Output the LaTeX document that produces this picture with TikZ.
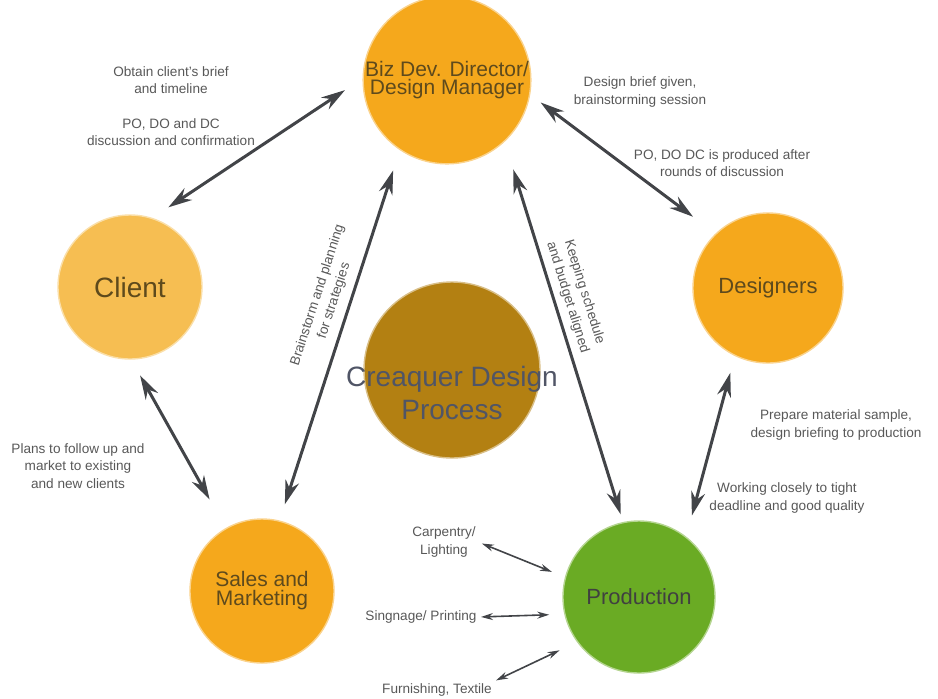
\documentclass[tikz,border=0pt]{standalone}
\usepackage{fontspec}
\setmainfont{Liberation Sans}
\usepackage{xcolor}
\usetikzlibrary{arrows.meta, positioning}
\definecolor{rolecolor}{RGB}{245,168,28}
\definecolor{clientcolor}{RGB}{246,190,82}
\definecolor{corecolor}{RGB}{179,128,18}
\definecolor{prodcolor}{RGB}{106,171,36}
\definecolor{arrowcolor}{RGB}{66,68,72}
\definecolor{notecolor}{RGB}{88,88,88}
\definecolor{stagetext}{RGB}{94,74,28}
\definecolor{coretext}{RGB}{80,85,102}

\tikzset{
  stage/.style={circle, fill=#1, draw=#1!50!white, line width=0.7pt, inner sep=0pt, align=center, text=stagetext},
  link/.style={{Stealth[length=12pt,width=7pt]}-{Stealth[length=12pt,width=7pt]}, line width=1.5pt, draw=arrowcolor},
  sublink/.style={{Stealth[length=6pt,width=3.5pt]}-{Stealth[length=6pt,width=3.5pt]}, line width=0.8pt, draw=arrowcolor},
  note/.style={text=notecolor, font=\fontsize{6.8}{8.7}\selectfont, align=center, inner sep=1pt}
}

\begin{document}
\begin{tikzpicture}[x=0.5pt, y=-0.5pt]
\useasboundingbox (0,0) rectangle (938,698);

% stages
\node[stage=rolecolor, minimum size=72pt, font=\fontsize{10.5}{9}\selectfont] (biz) at (447,80) {Biz Dev. Director/\\Design Manager};
\node[stage=clientcolor, minimum size=72pt, font=\fontsize{14}{14}\selectfont] (client) at (130,287) {Client};
\node[stage=rolecolor, minimum size=75pt, font=\fontsize{11}{11}\selectfont] (designers) at (768,288) {Designers};
\node[stage=rolecolor, minimum size=72pt, font=\fontsize{10.5}{9.5}\selectfont] (sales) at (262,591) {Sales and\\Marketing};
\node[stage=prodcolor, minimum size=76pt, font=\fontsize{11}{11}\selectfont, text=black!75] (prod) at (639,597) {Production};
\node[stage=corecolor, minimum size=88pt] (core) at (452,370) {};
\node[text=coretext, align=center, font=\fontsize{14}{16.5}\selectfont] (coretitle) at (452,393) {Creaquer Design\\Process};

% links between stages
\draw[link, shorten <=9.5pt, shorten >=10.5pt] (client.72) -- (biz.179);
\draw[link, shorten <=6.5pt, shorten >=14pt] (biz.-10) -- (designers.134);
\draw[link, shorten <=10.7pt, shorten >=8.5pt] (biz.236) -- (sales.76)
  node[note, pos=0.42, sloped, above=3pt] {Brainstorm and planning\\for strategies};
\draw[link, shorten <=14.4pt, shorten >=4pt] (biz.-47) -- (prod.102)
  node[note, pos=0.42, sloped, above=2pt] {Keeping schedule\\and budget aligned};
\draw[link, shorten <=9pt, shorten >=16.4pt] (client.-89) -- (sales.120);
\draw[link, shorten <=8.7pt, shorten >=10.9pt] (designers.-116) -- (prod.52);

% notes
\node[note] (briefnote) at (171,106) {Obtain client's brief\\and timeline\\[8.7pt]PO, DO and DC\\discussion and confirmation};
\node[note] (designnote) at (640,92) {Design brief given,\\brainstorming session};
\node[note] (roundsnote) at (722,163) {PO, DO DC is produced after\\rounds of discussion};
\node[note] (plansnote) at (78,466) {Plans to follow up and\\market to existing\\and new clients};
\node[note] (preparenote) at (836,425) {Prepare material sample,\\design briefing to production};
\node[note] (worknote) at (787,498) {Working closely to tight\\deadline and good quality};

% production suppliers
\node[note] (carp) at (444,542) {Carpentry/\\Lighting};
\node[note] (sign) at (421,617) {Singnage/ Printing};
\node[note] (furnish) at (437,690) {Furnishing, Textile};
\draw[sublink, shorten <=2pt, shorten >=7pt] (carp.east) -- (prod.165);
\draw[sublink, shorten <=1pt, shorten >=7.5pt] (sign.east) -- (prod.193);
\draw[sublink, shorten <=1pt, shorten >=9.6pt] (furnish.north east) -- (prod.216);
\end{tikzpicture}
\end{document}
